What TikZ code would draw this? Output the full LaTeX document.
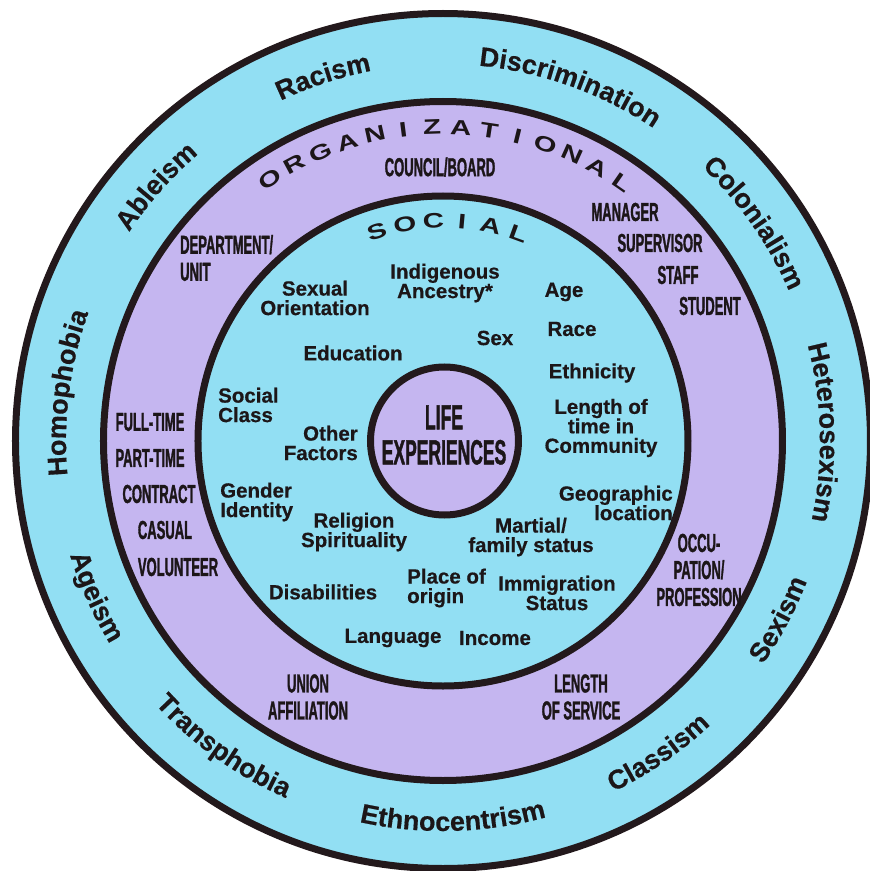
\documentclass[tikz,border=0pt]{standalone}
\usepackage{fontspec}
\setmainfont{Liberation Sans}
\newfontfamily\condfont[FakeStretch=0.5,FakeBold=1.2]{Liberation Sans}
\newfontfamily\widefont[FakeStretch=1.4]{Liberation Sans}
\newfontfamily\heavyfont[FakeBold=0.5]{Liberation Sans}
\usetikzlibrary{decorations.text}
\definecolor{bandblue}{RGB}{146,223,243}
\definecolor{bandpurple}{RGB}{197,182,240}
\definecolor{ringline}{RGB}{35,25,28}
\definecolor{ink}{RGB}{28,22,24}
\newcommand\outerfont{\heavyfont\fontsize{27}{27}\selectfont\bfseries}
\newcommand\topword[3]{\path[decorate,decoration={text along path,text align=center,text color=ink,text={|\outerfont|#3}}] ({#1+45}:#2pt) arc[start angle={#1+45}, end angle={#1-45}, radius=#2pt];}
\newcommand\botword[3]{\path[decorate,decoration={text along path,text align=center,text color=ink,text={|\outerfont|#3}}] ({#1-45}:#2pt) arc[start angle={#1-45}, end angle={#1+45}, radius=#2pt];}
\tikzset{
  ringnode/.style={circle, draw=ringline, line width=7pt, inner sep=0pt, outer sep=0pt},
  socialtxt/.style={font=\heavyfont\fontsize{20.5}{19.5}\selectfont\bfseries, text=ink, align=center, inner sep=0pt},
  orgtxt/.style={font=\condfont\fontsize{26}{27}\selectfont\bfseries, text=ink, align=center, inner sep=0pt},
  lifetxt/.style={font=\condfont\fontsize{35}{35}\selectfont\bfseries, text=ink, align=center, inner sep=0pt},
  arcletter/.style={font=\widefont\fontsize{21}{21}\selectfont\bfseries, text=ink, inner sep=0pt},
}
\begin{document}
\begin{tikzpicture}
\useasboundingbox (-443pt,-430pt) rectangle (427pt,441pt);
% rings
\node[ringnode, fill=bandblue, minimum size=855pt] (outerring) at (0pt,0pt) {};
\node[ringnode, fill=bandpurple, minimum size=679pt] (orgring) at (0pt,0pt) {};
\node[ringnode, fill=bandblue, minimum size=490pt] (socring) at (0pt,0pt) {};
\node[ringnode, fill=bandpurple, minimum size=148pt] (lifering) at (1.5pt,0pt) {};
% outer words
\topword{108.2}{377}{Racism}
\topword{70.3}{377}{Discrimination}
\topword{35}{377}{Colonialism}
\topword{1.3}{377}{Heterosexism}
\topword{172.7}{377}{Homophobia}
\topword{138.4}{377}{Ableism}
\botword{-28}{390}{Sexism}
\botword{-55.4}{390}{Classism}
\botword{-88.5}{390}{Ethnocentrism}
\botword{-125.7}{390}{Transphobia}
\botword{-155.8}{390}{Ageism}
% arc titles
\foreach \L [count=\i from 0] in {O,R,G,A,N,I,Z,A,T,I,O,N,A,L} {
  \pgfmathsetmacro\ang{123.5-5.25*\i}
  \node[arcletter, rotate=\ang-90] (org\i) at (\ang:314pt) {\L};
}
\foreach \L [count=\i from 0] in {S,O,C,I,A,L} {
  \pgfmathsetmacro\ang{107.5-7.5*\i}
  \node[arcletter, rotate=\ang-90] (soc\i) at (\ang:220pt) {\L};
}
% centre
\node[lifetxt] (life) at (1pt,6pt) {LIFE\\EXPERIENCES};
% social labels
\node[socialtxt] (sexor) at (-128pt,143pt) {Sexual\\Orientation};
\node[socialtxt] (indig) at (2pt,158pt) {Indigenous\\Ancestry*};
\node[socialtxt] (age) at (121pt,149pt) {Age};
\node[socialtxt] (race) at (129pt,112pt) {Race};
\node[socialtxt] (sex) at (52pt,103pt) {Sex};
\node[socialtxt] (educ) at (-90pt,88pt) {Education};
\node[socialtxt] (ethn) at (149pt,68pt) {Ethnicity};
\node[socialtxt, anchor=west, align=left] (sclass) at (-225pt,36pt) {Social\\Class};
\node[socialtxt, anchor=east, align=right] (other) at (-85pt,-2pt) {Other\\Factors};
\node[socialtxt] (lengthcom) at (158pt,13pt) {Length of\\time in\\Community};
\node[socialtxt, anchor=west, align=left] (gender) at (-223pt,-61pt) {Gender\\Identity};
\node[socialtxt] (relig) at (-89pt,-91pt) {Religion\\Spirituality};
\node[socialtxt, anchor=east, align=right] (geo) at (230pt,-62pt) {Geographic\\location};
\node[socialtxt] (marital) at (88pt,-96pt) {Martial/\\family status};
\node[socialtxt] (disab) at (-120pt,-151pt) {Disabilities};
\node[socialtxt, anchor=west, align=left] (place) at (-36pt,-147pt) {Place of\\origin};
\node[socialtxt] (immig) at (114pt,-152pt) {Immigration\\Status};
\node[socialtxt] (lang) at (-50pt,-197pt) {Language};
\node[socialtxt] (income) at (52pt,-197pt) {Income};
% organizational labels
\node[orgtxt] (council) at (-3pt,274pt) {COUNCIL/BOARD};
\node[orgtxt, anchor=west, align=left] (dept) at (-263pt,183pt) {DEPARTMENT/\\UNIT};
\node[orgtxt] (manager) at (182pt,229pt) {MANAGER};
\node[orgtxt] (superv) at (217pt,198pt) {SUPERVISOR};
\node[orgtxt] (staff) at (235pt,166pt) {STAFF};
\node[orgtxt] (student) at (267pt,135pt) {STUDENT};
\node[orgtxt] (fulltime) at (-293pt,19pt) {FULL-TIME};
\node[orgtxt] (parttime) at (-293pt,-17pt) {PART-TIME};
\node[orgtxt] (contract) at (-284pt,-53pt) {CONTRACT};
\node[orgtxt] (casual) at (-278pt,-89pt) {CASUAL};
\node[orgtxt] (volunt) at (-265pt,-126pt) {VOLUNTEER};
\node[orgtxt] (occup) at (256pt,-129pt) {OCCU-\\PATION/\\PROFESSION};
\node[orgtxt] (union) at (-135pt,-256pt) {UNION\\AFFILIATION};
\node[orgtxt] (lengthserv) at (138pt,-256pt) {LENGTH\\OF SERVICE};
\end{tikzpicture}
\end{document}
